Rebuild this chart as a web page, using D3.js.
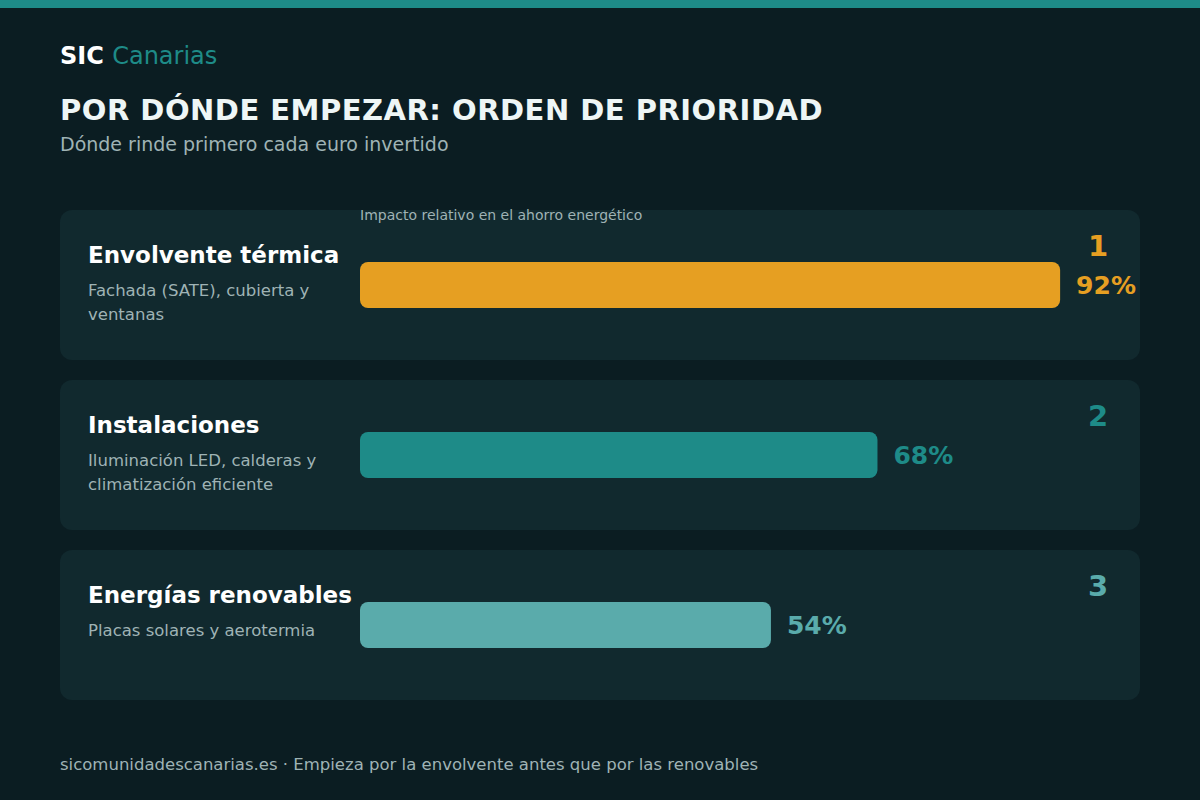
<!DOCTYPE html>
<html><head><meta charset="utf-8">
<script src="https://cdn.jsdelivr.net/npm/d3@7"></script>
<style>body{margin:0;background:#0b1d22;}svg{display:block;font-family:"DejaVu Sans",sans-serif;}</style>
</head><body>
<script>
const categories = ["Envolvente térmica","Instalaciones","Energías renovables"];
const descriptions = [["Fachada (SATE), cubierta y","ventanas"],["Iluminación LED, calderas y","climatización eficiente"],["Placas solares y aerotermia"]];
const values = [92,68,54];
const ranks = ["1","2","3"];
const colors = ["#e69f22","#1e8b88","#5aabab"];

const W=1200,H=800;
const svg=d3.select("body").append("svg").attr("width",W).attr("height",H);
svg.append("rect").attr("width",W).attr("height",H).attr("fill","#0b1d22");
svg.append("rect").attr("width",W).attr("height",8).attr("fill","#1e8b88");
const brand=svg.append("text").attr("x",60).attr("y",64).attr("font-size",24);
brand.append("tspan").attr("font-weight","bold").attr("fill","#ffffff").text("SIC ");
brand.append("tspan").attr("fill","#1e8b88").text("Canarias");
svg.append("text").attr("x",60).attr("y",120).attr("font-size",29).attr("font-weight","bold").attr("fill","#eef6f6").attr("letter-spacing",0.5).text("POR DÓNDE EMPEZAR: ORDEN DE PRIORIDAD");
svg.append("text").attr("x",60).attr("y",151).attr("font-size",19).attr("fill","#9fb3b5").text("Dónde rinde primero cada euro invertido");

const x=d3.scaleLinear().domain([0,100]).range([360,1121]);
const y=d3.scaleBand().domain(categories).range([210,720]).paddingInner(0.1176).paddingOuter(0);
// card height 150, gap 20 => step 170
const y2=d3.scaleBand().domain(categories).range([210,720]).padding(0);

const g=svg.selectAll("g.card").data(categories).join("g").attr("transform",(d)=>`translate(0,${y2(d)})`);
g.append("rect").attr("x",60).attr("y",0).attr("width",1080).attr("height",150).attr("rx",12).attr("fill","#11292e");
g.append("text").attr("x",88).attr("y",53).attr("font-size",23).attr("font-weight","bold").attr("fill","#ffffff").text(d=>d);
g.each(function(d,i){
  const t=d3.select(this);
  descriptions[i].forEach((l,j)=>t.append("text").attr("x",88).attr("y",86+j*24).attr("font-size",16.5).attr("fill","#9fb3b5").text(l));
  t.append("rect").attr("x",x(0)).attr("y",52).attr("width",x(values[i])-x(0)).attr("height",46).attr("rx",8).attr("fill",colors[i]);
  t.append("text").attr("x",x(values[i])+16).attr("y",84).attr("font-size",25).attr("font-weight","bold").attr("fill",colors[i]).text(values[i]+"%");
  t.append("text").attr("x",1098).attr("y",46).attr("text-anchor","middle").attr("font-size",29).attr("font-weight","bold").attr("fill",colors[i]).text(ranks[i]);
});
svg.append("text").attr("x",360).attr("y",220).attr("font-size",14).attr("fill","#9fb3b5").text("Impacto relativo en el ahorro energético");
svg.append("text").attr("x",60).attr("y",770).attr("font-size",16.5).attr("fill","#9fb3b5").text("sicomunidadescanarias.es · Empieza por la envolvente antes que por las renovables");
</script>
</body></html>
